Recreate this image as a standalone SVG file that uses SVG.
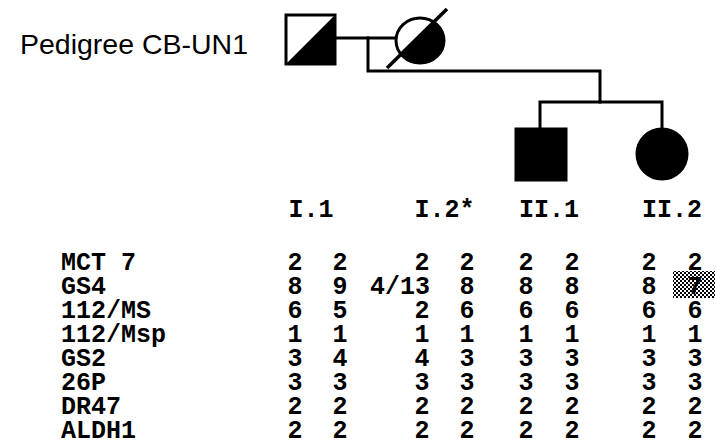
<svg xmlns="http://www.w3.org/2000/svg" width="716" height="446" viewBox="0 0 716 446">
<style>
.ln{stroke:#000;stroke-width:3;fill:none;stroke-linecap:square}
.sh{stroke:#000;stroke-width:3}
.title{font-family:"Liberation Sans",Arial,sans-serif;font-size:28px;fill:#000}
.t{font-family:"Liberation Mono","Courier New",monospace;font-weight:bold;font-size:25px;fill:#000}
.c{text-anchor:middle}
</style>
<defs>
<clipPath id="cI2"><ellipse cx="420" cy="40.5" rx="24" ry="22.5"/></clipPath>
<pattern id="dots" width="4" height="4" patternUnits="userSpaceOnUse">
<rect width="4" height="4" fill="#fff"/>
<rect x="0" y="0" width="2" height="2" fill="#000"/>
<rect x="2" y="2" width="2" height="2" fill="#000"/>
</pattern>
</defs>
<rect width="716" height="446" fill="#fff"/>
<text class="title" x="20" y="54" textLength="228" lengthAdjust="spacingAndGlyphs">Pedigree CB-UN1</text>
<g id="connectors">
<line class="ln" x1="335" y1="38" x2="396" y2="38"/>
<polyline class="ln" points="368,38 368,71 600,71 600,102"/>
<polyline class="ln" points="540,129 540,102 662,102 662,129"/>
</g>
<g id="I1">
<rect class="sh" x="286" y="15" width="49" height="49" fill="#fff"/>
<polygon points="335,15 335,64 286,64" fill="#000"/>
</g>
<g id="I2">
<ellipse cx="420" cy="40.5" rx="24" ry="22.5" fill="#fff"/>
<polygon points="356,98.5 474,-17.5 500,-17.5 500,110 356,110" fill="#000" clip-path="url(#cI2)"/>
<ellipse class="sh" cx="420" cy="40.5" rx="24" ry="22.5" fill="none"/>
<line x1="387" y1="68" x2="447" y2="9" stroke="#000" stroke-width="3.5"/>
</g>
<g id="II1">
<rect class="sh" x="516" y="129" width="50" height="51" fill="#000"/>
</g>
<g id="II2">
<circle class="sh" cx="662" cy="154" r="25" fill="#000"/>
</g>
<g id="table">
<rect x="673" y="271" width="42" height="27" fill="url(#dots)"/>
<text class="t c" x="311" y="217">I.1</text>
<text class="t c" x="444.5" y="217">I.2*</text>
<text class="t c" x="549" y="217">II.1</text>
<text class="t c" x="672" y="217">II.2</text>
<g class="t">
<text x="61" y="270">MCT 7</text>
<text x="61" y="294">GS4</text>
<text x="61" y="318">112/MS</text>
<text x="61" y="342">112/Msp</text>
<text x="61" y="366">GS2</text>
<text x="61" y="390">26P</text>
<text x="61" y="414">DR47</text>
<text x="61" y="438">ALDH1</text>
</g>
<g class="t c">
<text x="295" y="270">2</text><text x="340" y="270">2</text><text x="422" y="270">2</text><text x="467" y="270">2</text><text x="526" y="270">2</text><text x="572" y="270">2</text><text x="649" y="270">2</text><text x="695" y="270">2</text>
<text x="295" y="294">8</text><text x="340" y="294">9</text><text x="467" y="294">8</text><text x="526" y="294">8</text><text x="572" y="294">8</text><text x="649" y="294">8</text><text x="695" y="294">7</text>
<text x="295" y="318">6</text><text x="340" y="318">5</text><text x="422" y="318">2</text><text x="467" y="318">6</text><text x="526" y="318">6</text><text x="572" y="318">6</text><text x="649" y="318">6</text><text x="695" y="318">6</text>
<text x="295" y="342">1</text><text x="340" y="342">1</text><text x="422" y="342">1</text><text x="467" y="342">1</text><text x="526" y="342">1</text><text x="572" y="342">1</text><text x="649" y="342">1</text><text x="695" y="342">1</text>
<text x="295" y="366">3</text><text x="340" y="366">4</text><text x="422" y="366">4</text><text x="467" y="366">3</text><text x="526" y="366">3</text><text x="572" y="366">3</text><text x="649" y="366">3</text><text x="695" y="366">3</text>
<text x="295" y="390">3</text><text x="340" y="390">3</text><text x="422" y="390">3</text><text x="467" y="390">3</text><text x="526" y="390">3</text><text x="572" y="390">3</text><text x="649" y="390">3</text><text x="695" y="390">3</text>
<text x="295" y="414">2</text><text x="340" y="414">2</text><text x="422" y="414">2</text><text x="467" y="414">2</text><text x="526" y="414">2</text><text x="572" y="414">2</text><text x="649" y="414">2</text><text x="695" y="414">2</text>
<text x="295" y="438">2</text><text x="340" y="438">2</text><text x="422" y="438">2</text><text x="467" y="438">2</text><text x="526" y="438">2</text><text x="572" y="438">2</text><text x="649" y="438">2</text><text x="695" y="438">2</text>
</g>
<text class="t" x="430" y="294" text-anchor="end">4/13</text>
</g>
</svg>
